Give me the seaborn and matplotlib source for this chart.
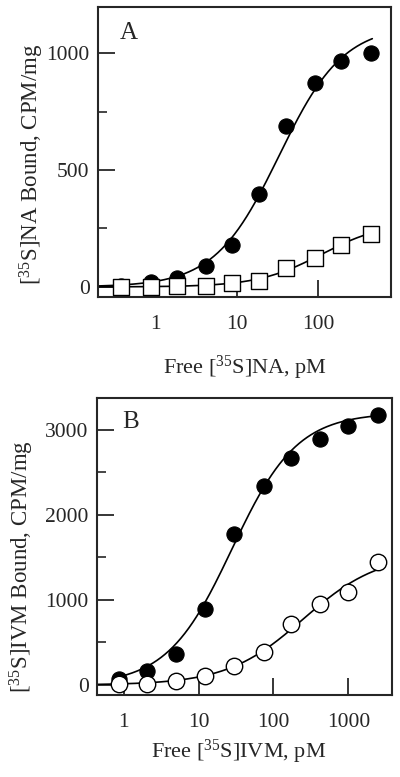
import numpy as np
import pandas as pd
import matplotlib
matplotlib.use("Agg")
import matplotlib.pyplot as plt
import seaborn as sns
from matplotlib.ticker import FixedLocator, NullLocator

# ---------------- data ----------------
a_free = [0.38, 0.88, 1.85, 4.2, 8.9, 19, 40, 92, 190, 440]
a_total = [5, 23, 38, 91, 179, 396, 688, 874, 966, 1000]
a_nonspec = [0, 0, 4, 4, 18, 27, 80, 125, 179, 225]

b_free = [0.86, 2.05, 5.0, 12.3, 30, 74, 172, 420, 1000, 2500]
b_filled = [70, 165, 365, 898, 1773, 2333, 2671, 2894, 3039, 3176]
b_open = [8, 16, 47, 110, 224, 392, 718, 949, 1094, 1451]

# fitted curve parameters (Bmax, K, Hill n)
fit_a_total = (1120, 33, 1.1)
fit_a_nonspec = (280, 110, 1.1)
fit_b_filled = (3200, 28, 1.0)
fit_b_open = (1550, 250, 0.85)

a_xticks = [1, 10, 100]
a_xticklabels = ["1", "10", "100"]
a_yticks = [0, 500, 1000]
a_yminor = [250, 750]
b_xticks = [1, 10, 100, 1000]
b_xticklabels = ["1", "10", "100", "1000"]
b_yticks = [0, 1000, 2000, 3000]
b_yminor = [500, 1500, 2500]

# ---------------- style ----------------
sns.set_style("ticks")
plt.rcParams["font.family"] = ["Liberation Serif", "DejaVu Serif"]
plt.rcParams["mathtext.fontset"] = "custom"
plt.rcParams["mathtext.rm"] = "Liberation Serif"
plt.rcParams["mathtext.it"] = "Liberation Serif:italic"
plt.rcParams["font.size"] = 15.5


def hill(x, p):
    bmax, k, n = p
    x = np.asarray(x, dtype=float)
    r = (x / k) ** n
    return bmax * r / (1 + r)


fig = plt.figure(figsize=(4.0, 7.77), dpi=100)
axA = fig.add_axes([0.245, 0.6178, 0.7325, 0.3732])
axB = fig.add_axes([0.2425, 0.1055, 0.7368, 0.3823])

lw = 1.2


def draw_curve(ax, x0, x1, p):
    xs = np.logspace(np.log10(x0), np.log10(x1), 200)
    df = pd.DataFrame({"x": xs, "y": hill(xs, p)})
    sns.lineplot(data=df, x="x", y="y", ax=ax, color="black", lw=lw,
                 zorder=2, legend=False)


# ---- Panel A ----
a_xlim = (0.2, 780)
draw_curve(axA, a_xlim[0], 460, fit_a_total)
draw_curve(axA, a_xlim[0], 440, fit_a_nonspec)
dfa = pd.DataFrame({"x": a_free, "tot": a_total, "ns": a_nonspec})
sns.scatterplot(data=dfa, x="x", y="tot", ax=axA, color="black", s=120,
                marker="o", edgecolor="black", linewidth=0.8, zorder=3)
sns.scatterplot(data=dfa, x="x", y="ns", ax=axA, color="white", s=130,
                marker="s", edgecolor="black", linewidth=1.0, zorder=4)
axA.set_xscale("log")
axA.set_xlim(*a_xlim)
axA.set_ylim(-43, 1197)
axA.xaxis.set_major_locator(FixedLocator(a_xticks))
axA.set_xticklabels(a_xticklabels)
axA.xaxis.set_minor_locator(NullLocator())
axA.yaxis.set_major_locator(FixedLocator(a_yticks))
axA.yaxis.set_minor_locator(FixedLocator(a_yminor))
axA.set_xlabel("Free [$^{35}$S]NA, pM", fontsize=16)
axA.set_ylabel("[$^{35}$S]NA Bound, CPM/mg", fontsize=16.5)
axA.xaxis.set_label_coords(0.503, -0.195)
axA.yaxis.set_label_coords(-0.178, 0.459)
axA.text(0.105, 0.91, "A", transform=axA.transAxes, fontsize=18,
         ha="center", va="center")

# ---- Panel B ----
b_xlim = (0.44, 3800)
draw_curve(axB, 0.8, 2500, fit_b_filled)
draw_curve(axB, b_xlim[0], 2500, fit_b_open)
dfb = pd.DataFrame({"x": b_free, "f": b_filled, "o": b_open})
sns.scatterplot(data=dfb, x="x", y="f", ax=axB, color="black", s=120,
                marker="o", edgecolor="black", linewidth=0.8, zorder=3)
sns.scatterplot(data=dfb, x="x", y="o", ax=axB, color="white", s=140,
                marker="o", edgecolor="black", linewidth=1.0, zorder=4)
axB.set_xscale("log")
axB.set_xlim(*b_xlim)
axB.set_ylim(-118, 3373)
axB.xaxis.set_major_locator(FixedLocator(b_xticks))
axB.set_xticklabels(b_xticklabels)
axB.xaxis.set_minor_locator(NullLocator())
axB.yaxis.set_major_locator(FixedLocator(b_yticks))
axB.yaxis.set_minor_locator(FixedLocator(b_yminor))
axB.set_xlabel("Free [$^{35}$S]IVM, pM", fontsize=16)
axB.set_ylabel("[$^{35}$S]IVM Bound, CPM/mg", fontsize=16.5)
axB.xaxis.set_label_coords(0.481, -0.145)
axB.yaxis.set_label_coords(-0.208, 0.431)
axB.text(0.115, 0.92, "B", transform=axB.transAxes, fontsize=18,
         ha="center", va="center")

for ax in (axA, axB):
    for s in ax.spines.values():
        s.set_linewidth(1.5)
        s.set_visible(True)
    ax.tick_params(axis="both", which="major", direction="in", length=12,
                   width=1.3, labelsize=15.5, top=False, right=False)
    ax.tick_params(axis="y", which="minor", direction="in", length=6.5,
                   width=1.2)
    ax.tick_params(axis="x", which="major", pad=13)
    ax.tick_params(axis="y", which="major", pad=6)

fig.savefig("out.png", dpi=100)
